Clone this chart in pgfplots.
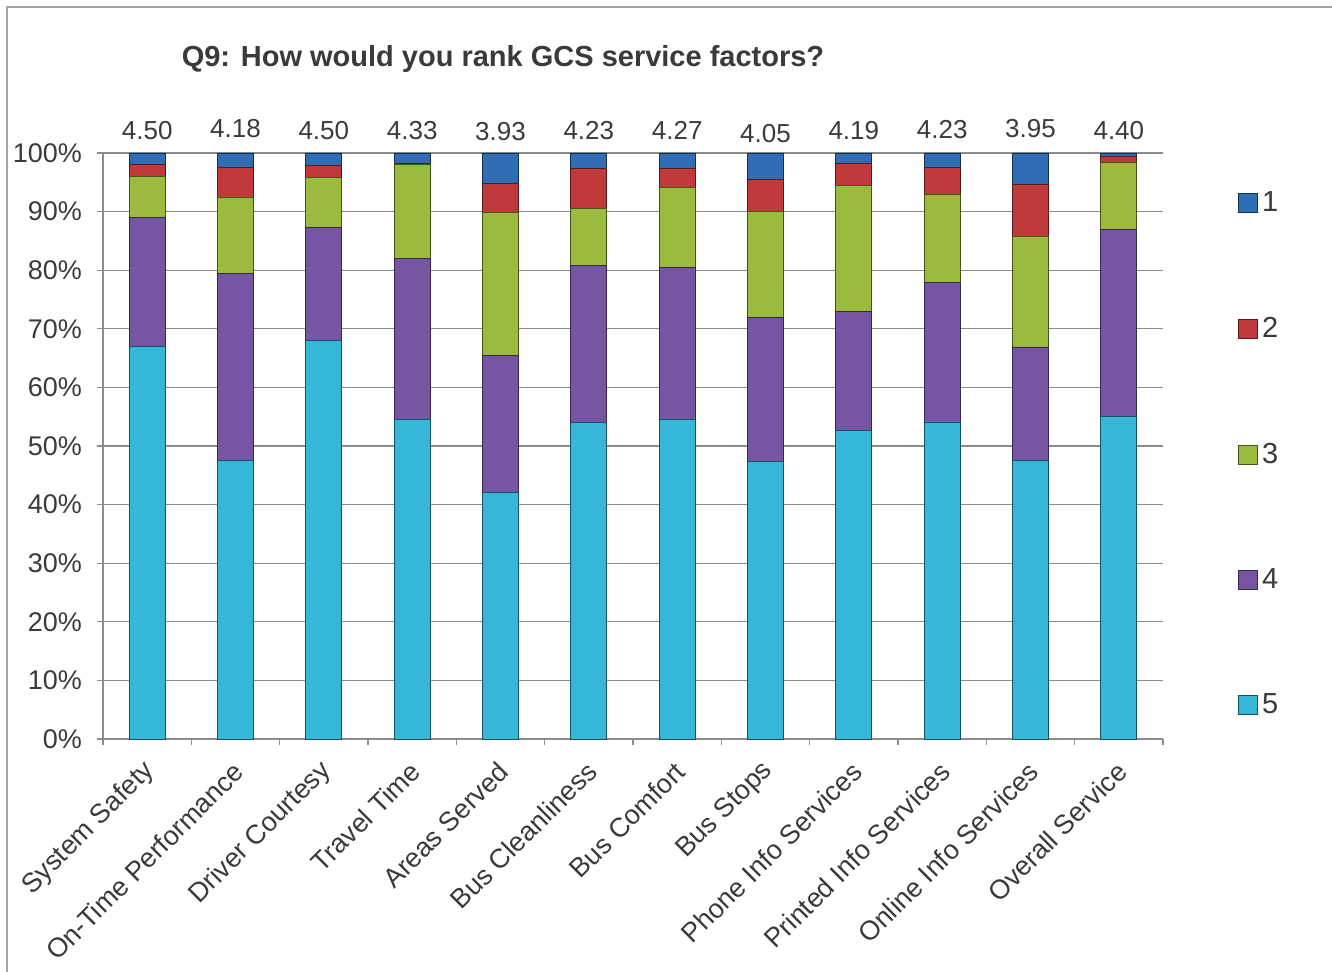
\documentclass[border=0pt]{standalone}
\usepackage{fontspec}
\setmainfont{Liberation Sans}
\usepackage{pgfplots}
\pgfplotsset{compat=1.18}
\definecolor{c1}{HTML}{2F6EB5}
\definecolor{c2}{HTML}{C0393B}
\definecolor{c3}{HTML}{9BBB3F}
\definecolor{c4}{HTML}{7656A2}
\definecolor{c5}{HTML}{36B6D8}
\definecolor{txt}{HTML}{3A3A3A}
\definecolor{gridc}{HTML}{8C8C8C}
\tikzset{vlab/.style={font=\fontsize{13}{15}\selectfont, text=txt},
  barsty/.style={draw=#1!45!black, fill=#1}}
\begin{document}
\begin{tikzpicture}
\useasboundingbox (0pt,0pt) rectangle (666pt,486pt);
\draw[gridc!80, line width=0.6pt] (3.5pt,-20pt) -- (3.5pt,482.5pt) -- (700pt,482.5pt);
\node[font=\bfseries\fontsize{14.5}{16}\selectfont, text=txt] at (251.5pt,456.5pt) {Q9: How would you rank GCS service factors?};
\begin{axis}[
  at={(51.5pt,116.5pt)}, anchor=south west,
  width=530pt, height=293pt, scale only axis,
  ybar stacked, bar width=18pt,
  xmin=-0.5, xmax=11.5, ymin=0, ymax=100,
  clip=false,
  axis x line=bottom, axis y line=left,
  axis line style={-, draw=gridc, line width=0.6pt},
  tick align=outside, major tick length=3pt,
  ytick={0,10,...,100},
  yticklabels={0\%,10\%,20\%,30\%,40\%,50\%,60\%,70\%,80\%,90\%,100\%},
  yticklabel style={font=\fontsize{13.5}{15}\selectfont, text=txt, xshift=-4pt},
  y tick style={draw=gridc, line width=0.6pt},
  ymajorgrids, grid style={draw=gridc, line width=0.6pt},
  xtick={0,...,11},
  xticklabels={System Safety,On-Time Performance,Driver Courtesy,Travel Time,Areas Served,Bus Cleanliness,Bus Comfort,Bus Stops,Phone Info Services,Printed Info Services,Online Info Services,Overall Service},
  xticklabel style={xshift=4pt, yshift=-8.5pt, rotate=45, anchor=east, font=\fontsize{13.5}{15}\selectfont, text=txt},
  x tick style={draw=none},
  extra x ticks={-0.5,0.5,...,11.5},
  extra x tick labels={},
  extra x tick style={x tick style={draw=gridc, line width=0.6pt}, grid=none},
  legend image code/.code={\draw[#1,/tikz/.cd] (0pt,-4.75pt) rectangle (9.5pt,4.75pt);},
  reverse legend,
  legend style={draw=none, fill=none, at={(1.065,0.948)}, anchor=north west,
    font=\fontsize{14.5}{16}\selectfont, text=txt, row sep=47.2pt},
  legend cell align=left,
]
\addplot[barsty=c5] coordinates {(0,67) (1,47.5) (2,68) (3,54.5) (4,42) (5,54) (6,54.6) (7,47.3) (8,52.6) (9,54.1) (10,47.5) (11,55)};
\addplot[barsty=c4] coordinates {(0,22) (1,32) (2,19.3) (3,27.5) (4,23.4) (5,26.8) (6,25.8) (7,24.6) (8,20.3) (9,23.8) (10,19.4) (11,32)};
\addplot[barsty=c3] coordinates {(0,7) (1,13) (2,8.6) (3,16) (4,24.4) (5,9.7) (6,13.7) (7,18.1) (8,21.5) (9,15) (10,18.8) (11,11.4)};
\addplot[barsty=c2] coordinates {(0,2) (1,5) (2,1.9) (3,0.3) (4,5) (5,6.8) (6,3.2) (7,5.5) (8,3.8) (9,4.7) (10,9) (11,1)};
\addplot[barsty=c1] coordinates {(0,2) (1,2.5) (2,2.2) (3,1.7) (4,5.2) (5,2.7) (6,2.7) (7,4.5) (8,1.8) (9,2.4) (10,5.3) (11,0.6)};
\legend{5,4,3,2,1}
\node[vlab] at (axis cs:0,103.9) {4.50};
\node[vlab] at (axis cs:1,104.2) {4.18};
\node[vlab] at (axis cs:2,103.9) {4.50};
\node[vlab] at (axis cs:3,103.9) {4.33};
\node[vlab] at (axis cs:4,103.6) {3.93};
\node[vlab] at (axis cs:5,103.8) {4.23};
\node[vlab] at (axis cs:6,103.9) {4.27};
\node[vlab] at (axis cs:7,103.4) {4.05};
\node[vlab] at (axis cs:8,103.8) {4.19};
\node[vlab] at (axis cs:9,104.0) {4.23};
\node[vlab] at (axis cs:10,104.1) {3.95};
\node[vlab] at (axis cs:11,103.9) {4.40};
\end{axis}
\end{tikzpicture}
\end{document}
